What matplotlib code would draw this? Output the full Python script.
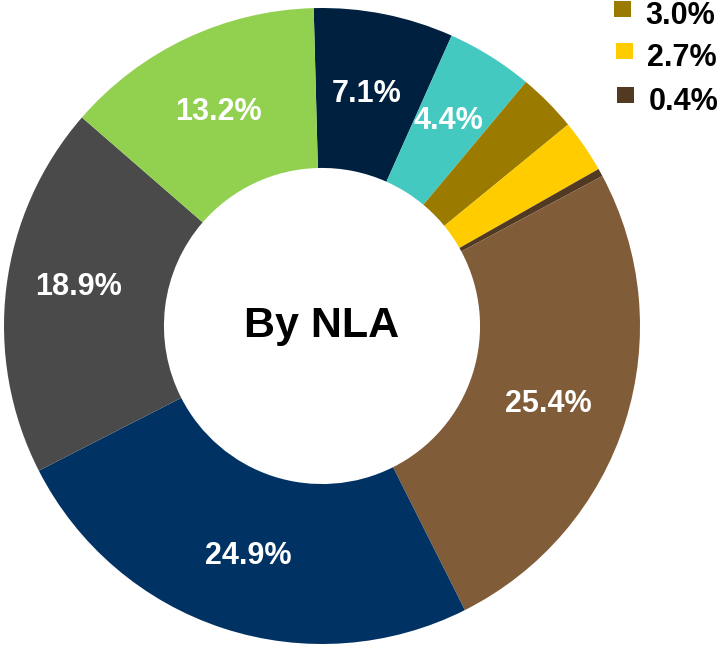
import matplotlib
matplotlib.use("Agg")
import matplotlib.pyplot as plt
from matplotlib.patches import Rectangle
import numpy as np

shares = [7.1, 4.4, 3.0, 2.7, 0.4, 25.4, 24.9, 18.9, 13.2]
labels = ["7.1%", "4.4%", "3.0%", "2.7%", "0.4%", "25.4%", "24.9%", "18.9%", "13.2%"]
colors = ["#00203F", "#44C9C1", "#9A7B00", "#FFCC00", "#523A22",
          "#815C39", "#003263", "#4A4A4A", "#92D050"]
# slices labelled inside the ring; the small ones only appear in the (cropped) legend
inner_label = [True, True, False, False, False, True, True, True, True]
legend_idx = [2, 3, 4]

# label placement tweaks (radius fraction, angle nudge in degrees)
label_r = [0.754, 0.767, 0, 0, 0, 0.75, 0.75, 0.777, 0.757]
label_da = [0.5, 0.9, 0, 0, 0, -0.6, 0, -2.9, 0.1]

plt.rcParams['font.family'] = ['Liberation Sans', 'DejaVu Sans']

W, H = 725, 646
fig = plt.figure(figsize=(W / 100, H / 100), dpi=100)
cx, cy, r = 322, 326, 318
ax = fig.add_axes([(cx - r) / W, (H - cy - r) / H, 2 * r / W, 2 * r / H])

wedges, _ = ax.pie(shares, colors=colors, startangle=91.5, counterclock=False,
                   radius=1.0, wedgeprops=dict(width=0.503, linewidth=0))

for i, w in enumerate(wedges):
    if not inner_label[i]:
        continue
    ang = np.deg2rad((w.theta1 + w.theta2) / 2 + label_da[i])
    ax.text(label_r[i] * np.cos(ang), label_r[i] * np.sin(ang), labels[i],
            color="white", fontsize=22, fontweight="bold",
            ha="center", va="center_baseline")

ax.set_xlim(-1, 1)
ax.set_ylim(-1, 1)
ax.set_aspect('equal')
ax.axis('off')

ax.text(0, 0, "By NLA", fontsize=31, fontweight="bold", ha="center", va="center")

# legend (top part is cut off in the original)
rows_y = [12, 54, 98]
for k, i in enumerate(legend_idx):
    y = rows_y[k]
    fig.patches.append(Rectangle(((614 + k * 1.5) / W, (H - y - 5) / H), 17 / W, 16 / H,
                                 transform=fig.transFigure, facecolor=colors[i],
                                 edgecolor="none"))
    fig.text((645 + k * 2) / W, (H - y) / H, labels[i], fontsize=22,
             fontweight="bold", ha="left", va="center_baseline")

fig.savefig("out.png", dpi=100)
